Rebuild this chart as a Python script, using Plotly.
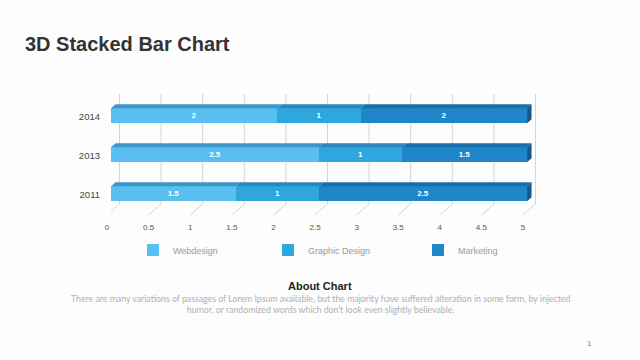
import plotly.graph_objects as go

# ---- data ----
years = ["2011", "2013", "2014"]
series_names = ["Webdesign", "Graphic Design", "Marketing"]
webdesign = [1.5, 2.5, 2]
graphic_design = [1, 1, 1]
marketing = [2.5, 1.5, 2]
x_ticks = [0, 0.5, 1, 1.5, 2, 2.5, 3, 3.5, 4, 4.5, 5]

series_values = [webdesign, graphic_design, marketing]
front_colors = ["#58bff0", "#2ea7df", "#1f87c9"]
top_colors = ["#3f95c9", "#2a86bd", "#1b6ea8"]
side_color = "#16588c"

# ---- layout geometry (pixels) ----
W, H = 640, 360
L = 111
PX_X = 83.2
XMAX = 5.3
plot_w = XMAX * PX_X
R = W - L - plot_w
T = 94
B = 145
plot_h = H - T - B
YMIN, YMAX = -0.546, 2.556
PX_Y = plot_h / (YMAX - YMIN)
BAR_W = 15 / PX_Y
DX = 4.5 / PX_X   # depth offset in data units
DY = 4 / PX_Y

ypos = list(range(len(years)))


def px2paper_x(px):
    return (px - L) / plot_w


def px2paper_y(py):
    return (H - B - py) / plot_h


fig = go.Figure()
legend_ids = ["legend", "legend2", "legend3"]
for name, vals, col, lg in zip(series_names, series_values, front_colors, legend_ids):
    fig.add_trace(go.Bar(
        name=name, y=ypos, x=vals, orientation="h", width=BAR_W,
        marker=dict(color=col, line=dict(width=0)),
        text=[f"{v:g}" for v in vals], textposition="inside", textangle=0,
        insidetextanchor="middle", constraintext="none",
        textfont=dict(color="white", size=8, family="Liberation Sans", weight="bold"),
        legend=lg, hoverinfo="skip",
    ))

shapes = []
# back-wall gridlines and floor diagonals
floor_back = px2paper_y(204)
for v in x_ticks:
    shapes.append(dict(type="line", xref="x", yref="paper", xsizemode="pixel", xanchor=v,
                       x0=8.5, x1=8.5, y0=floor_back, y1=1,
                       line=dict(color="#d4d4d4", width=1), layer="below"))
    shapes.append(dict(type="line", xref="x", yref="paper", xsizemode="pixel", xanchor=v,
                       x0=8.5, x1=-4, y0=floor_back, y1=0,
                       line=dict(color="#d4d4d4", width=1), layer="below"))

# 3D top faces and right side face
for i, y in enumerate(ypos):
    base = 0
    yt = y + BAR_W / 2
    yb = y - BAR_W / 2
    for s, vals in enumerate(series_values):
        v0, v1 = base, base + vals[i]
        path = (f"M{v0},{yt} L{v1},{yt} L{v1 + DX},{yt + DY} "
                f"L{v0 + DX},{yt + DY} Z")
        shapes.append(dict(type="path", path=path, xref="x", yref="y",
                           fillcolor=top_colors[s], line=dict(width=0), layer="above"))
        base = v1
    path = (f"M{base},{yb} L{base},{yt} L{base + DX},{yt + DY} "
            f"L{base + DX},{yb + DY} Z")
    shapes.append(dict(type="path", path=path, xref="x", yref="y",
                       fillcolor=side_color, line=dict(width=0), layer="above"))

annotations = [
    dict(text="<b>3D Stacked Bar Chart</b>", x=px2paper_x(23), y=px2paper_y(44),
         xref="paper", yref="paper", xanchor="left", yanchor="middle", showarrow=False,
         font=dict(size=20, color="#333333", family="Liberation Sans")),
    dict(text="<b>About Chart</b>", x=px2paper_x(320), y=px2paper_y(286),
         xref="paper", yref="paper", xanchor="center", yanchor="middle", showarrow=False,
         font=dict(size=11, color="#222222", family="Liberation Sans")),
    dict(text=("There are many variations of passages of Lorem Ipsum available, but the majority have suffered alteration in some form, by injected<br>"
               "humor, or randomized words which don't look even slightly believable."),
         x=px2paper_x(320), y=px2paper_y(304), xref="paper", yref="paper",
         xanchor="center", yanchor="middle", showarrow=False, align="center",
         font=dict(size=8.75, color="#b0b0b0", family="Lato")),
    dict(text="1", x=px2paper_x(589), y=px2paper_y(343), xref="paper", yref="paper",
         xanchor="center", yanchor="middle", showarrow=False,
         font=dict(size=8, color="#888888", family="Liberation Sans")),
]

legend_style = dict(orientation="h", xref="container", yref="container",
                    xanchor="left", yanchor="middle", bgcolor="rgba(0,0,0,0)",
                    font=dict(size=9, color="#999999", family="Liberation Sans"))
legend_px = [133, 268, 418]
layout_legends = {}
for lg, px in zip(legend_ids, legend_px):
    layout_legends[lg] = dict(legend_style, x=px / W, y=(H - 250) / H)

fig.update_layout(
    width=W, height=H,
    margin=dict(l=L, r=R, t=T, b=B, pad=0, autoexpand=False),
    paper_bgcolor="#fdfdfd", plot_bgcolor="rgba(0,0,0,0)",
    barmode="stack", bargap=0,
    showlegend=True,
    xaxis=dict(range=[0, XMAX], tickvals=x_ticks, ticktext=[f"{v:g}" for v in x_ticks],
               showgrid=False, zeroline=False, showline=False, ticks="",
               ticklabelshift=-4, ticklabelstandoff=6,
               tickfont=dict(size=8, color="#555555", family="Liberation Sans")),
    yaxis=dict(range=[YMIN, YMAX], tickvals=ypos, ticktext=years,
               showgrid=False, zeroline=False, showline=False, ticks="",
               ticklabelstandoff=10, ticklabelshift=1,
               tickfont=dict(size=9.5, color="#444444", family="Liberation Sans")),
    shapes=shapes, annotations=annotations,
    **layout_legends,
)

fig.write_html("out.html", config={"displayModeBar": False},
               post_script="document.body.style.margin='0';")
